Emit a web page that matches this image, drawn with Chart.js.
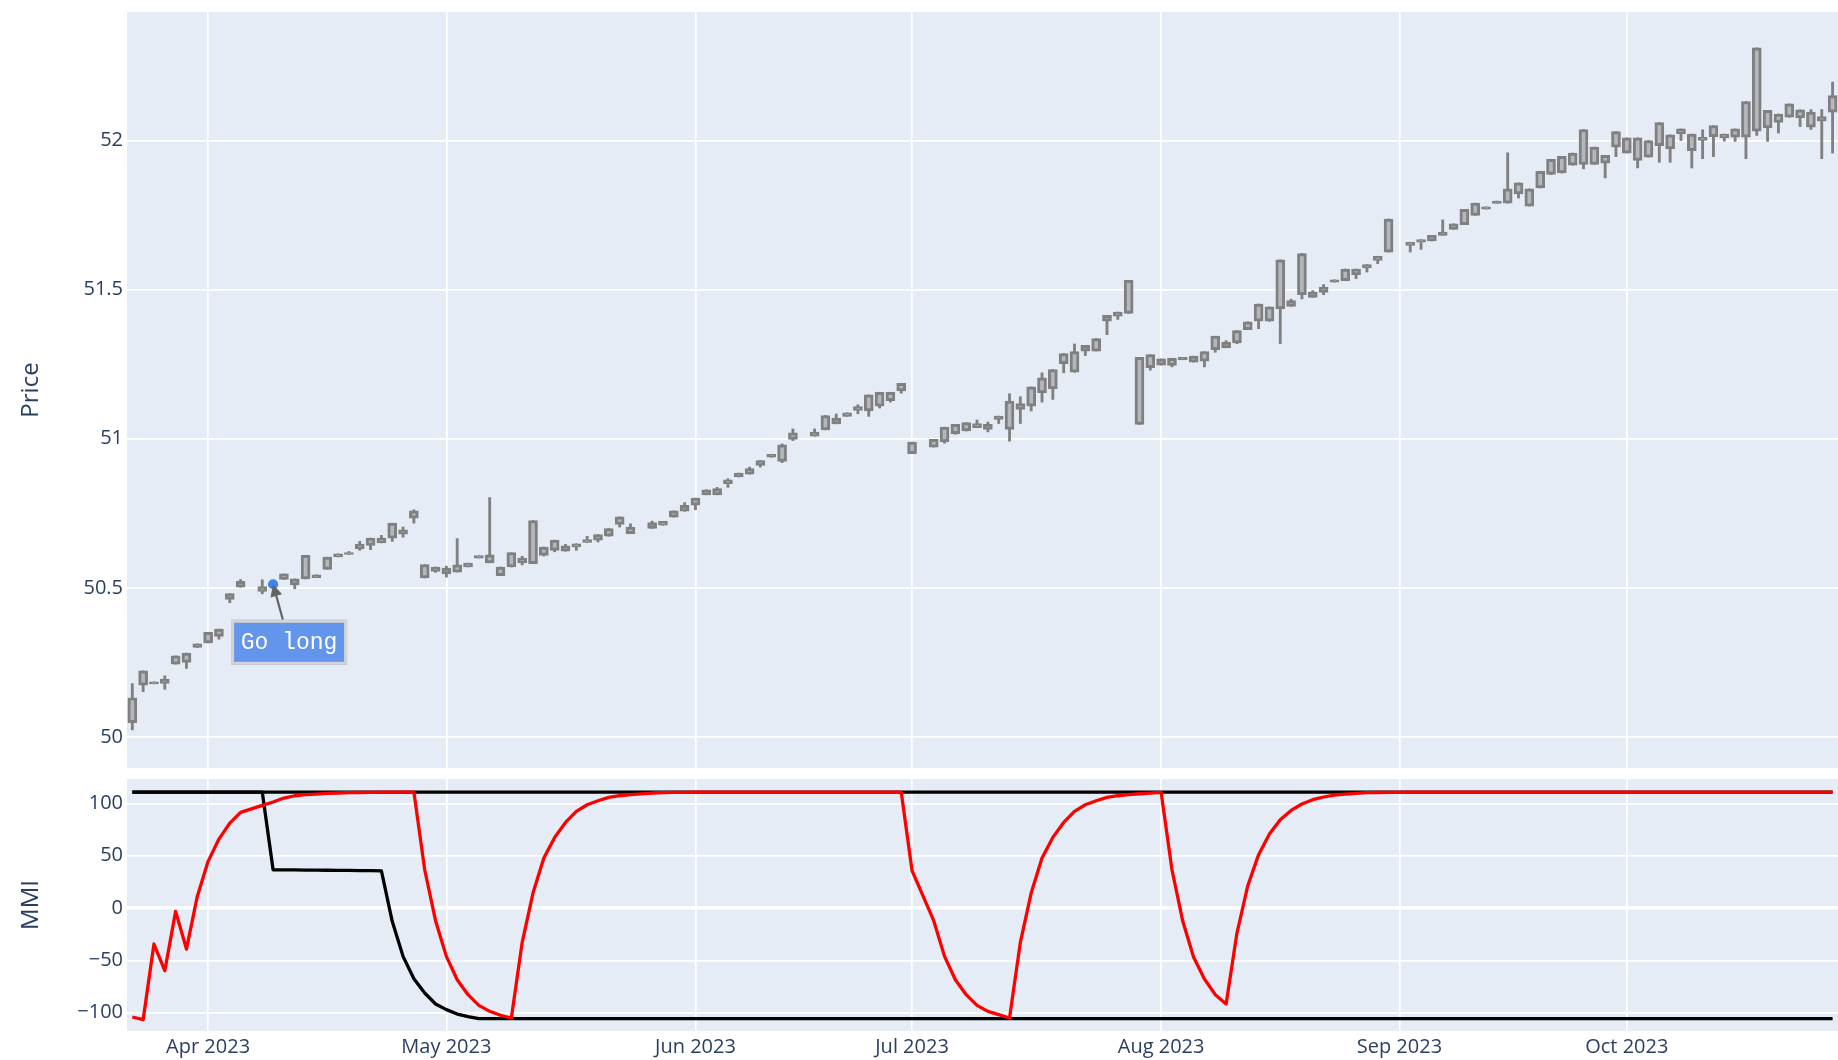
<!DOCTYPE html>
<html>
<head>
<meta charset="utf-8">
<script src="https://cdn.jsdelivr.net/npm/chart.js@4.4.0/dist/chart.umd.min.js"></script>
<style>
  body { margin: 0; background: #fff; }
  #top { position: absolute; left: 0; top: 0; width: 1838px; height: 768px; }
  #bottom { position: absolute; left: 0; top: 779px; width: 1838px; height: 281px; }
</style>
</head>
<body>
<div id="top"><canvas id="priceChart"></canvas></div>
<div id="bottom"><canvas id="mmiChart"></canvas></div>
<script>
// axis ticks (x is the bar number, month labels sit on the first bar of each month)
const monthTickIdx = [7, 29, 52, 72, 95, 117, 138];
const monthTickLabels = ["Apr 2023", "May 2023", "Jun 2023", "Jul 2023", "Aug 2023", "Sep 2023", "Oct 2023"];
const priceTicks = [50, 50.5, 51, 51.5, 52];
const priceTickLabels = ["50", "50.5", "51", "51.5", "52"];
const mmiTicks = [-100, -50, 0, 50, 100];
const mmiTickLabels = ["\u2212100", "\u221250", "0", "50", "100"];

// candles
const open = [
  50.048, 50.174, 50.178, 50.180, 50.244, 50.250, 50.300, 50.315, 50.337, 50.461,
  50.502, null, 50.488, 50.505, 50.528, 50.510, 50.530, 50.534, 50.562, 50.604,
  50.612, 50.631, 50.642, 50.651, 50.667, 50.680, 50.734, 50.533, 50.555, 50.547,
  50.553, 50.570, 50.600, 50.584, 50.541, 50.570, 50.584, 50.581, 50.609, 50.626,
  50.623, 50.637, 50.652, 50.660, 50.673, 50.713, 50.682, null, 50.699, 50.710,
  50.737, 50.757, 50.777, 50.812, 50.812, 50.849, 50.872, 50.881, 50.911, 50.938,
  50.924, 50.998, null, 51.009, 51.030, 51.050, 51.075, 51.095, 51.093, 51.109,
  51.128, 51.160, 50.950, null, 50.972, 50.989, 51.017, 51.026, 51.037, 51.031,
  51.065, 51.031, 51.098, 51.109, 51.154, 51.167, 51.252, 51.223, 51.294, 51.294,
  51.394, 51.411, 51.420, 51.048, 51.238, 51.247, 51.246, 51.265, 51.257, 51.260,
  51.299, 51.305, 51.321, 51.366, 51.394, 51.394, 51.435, 51.444, 51.483, 51.474,
  51.491, 51.525, 51.530, 51.550, 51.573, 51.598, 51.626, null, 51.648, 51.659,
  51.663, 51.682, 51.702, 51.718, 51.749, 51.770, 51.789, 51.790, 51.821, 51.780,
  51.841, 51.886, 51.891, 51.917, 51.920, 51.920, 51.924, 51.978, 51.958, 51.933,
  51.944, 51.983, 51.972, 52.022, 51.966, 52.000, 52.013, 52.009, 52.011, 52.011,
  52.031, 52.042, 52.061, 52.078, 52.076, 52.045, 52.065, 52.095
];
const close = [
  50.131, 50.222, 50.185, 50.194, 50.272, 50.281, 50.312, 50.351, 50.362, 50.481,
  50.522, null, 50.504, 50.515, 50.547, 50.530, 50.609, 50.544, 50.603, 50.614,
  50.618, 50.647, 50.667, 50.667, 50.717, 50.695, 50.758, 50.578, 50.570, 50.566,
  50.577, 50.583, 50.608, 50.611, 50.570, 50.618, 50.600, 50.726, 50.637, 50.660,
  50.641, 50.648, 50.662, 50.679, 50.699, 50.738, 50.704, null, 50.719, 50.723,
  50.758, 50.777, 50.801, 50.829, 50.833, 50.862, 50.885, 50.900, 50.927, 50.948,
  50.980, 51.020, null, 51.022, 51.078, 51.069, 51.087, 51.108, 51.147, 51.156,
  51.156, 51.186, 50.989, null, 50.998, 51.039, 51.048, 51.054, 51.051, 51.048,
  51.076, 51.126, 51.118, 51.174, 51.204, 51.232, 51.286, 51.292, 51.313, 51.336,
  51.414, 51.425, 51.531, 51.273, 51.282, 51.268, 51.270, 51.273, 51.277, 51.292,
  51.344, 51.324, 51.363, 51.392, 51.452, 51.442, 51.600, 51.463, 51.621, 51.492,
  51.509, 51.533, 51.569, 51.569, 51.584, 51.612, 51.737, null, 51.659, 51.668,
  51.682, 51.693, 51.721, 51.769, 51.790, 51.778, 51.797, 51.838, 51.858, 51.838,
  51.897, 51.937, 51.947, 51.958, 52.037, 51.978, 51.950, 52.030, 52.009, 52.009,
  52.000, 52.060, 52.019, 52.039, 52.022, 52.011, 52.050, 52.022, 52.039, 52.131,
  52.311, 52.101, 52.089, 52.123, 52.103, 52.095, 52.080, 52.151
];
const high = [
  50.179, 50.222, 50.185, 50.205, 50.272, 50.281, 50.312, 50.351, 50.362, 50.481,
  50.528, null, 50.527, 50.515, 50.547, 50.530, 50.609, 50.544, 50.603, 50.614,
  50.622, 50.656, 50.667, 50.676, 50.717, 50.704, 50.762, 50.578, 50.570, 50.573,
  50.665, 50.583, 50.608, 50.803, 50.570, 50.618, 50.606, 50.726, 50.637, 50.660,
  50.646, 50.648, 50.673, 50.679, 50.699, 50.738, 50.715, null, 50.724, 50.723,
  50.758, 50.786, 50.801, 50.829, 50.837, 50.866, 50.885, 50.905, 50.927, 50.948,
  50.983, 51.033, null, 51.033, 51.078, 51.083, 51.087, 51.114, 51.147, 51.156,
  51.156, 51.186, 50.989, null, 50.998, 51.039, 51.048, 51.054, 51.063, 51.056,
  51.076, 51.151, 51.141, 51.174, 51.221, 51.232, 51.286, 51.318, 51.313, 51.336,
  51.414, 51.425, 51.531, 51.273, 51.282, 51.268, 51.270, 51.273, 51.277, 51.292,
  51.344, 51.329, 51.363, 51.392, 51.452, 51.442, 51.600, 51.468, 51.621, 51.497,
  51.517, 51.533, 51.569, 51.569, 51.584, 51.612, 51.737, null, 51.659, 51.668,
  51.682, 51.734, 51.721, 51.769, 51.790, 51.778, 51.797, 51.959, 51.858, 51.838,
  51.897, 51.937, 51.947, 51.958, 52.037, 51.978, 51.950, 52.030, 52.009, 52.009,
  52.000, 52.060, 52.019, 52.039, 52.022, 52.036, 52.050, 52.022, 52.039, 52.131,
  52.311, 52.101, 52.089, 52.123, 52.103, 52.104, 52.104, 52.196
];
const low = [
  50.024, 50.152, 50.178, 50.160, 50.244, 50.230, 50.300, 50.315, 50.328, 50.450,
  50.502, null, 50.480, 50.505, 50.528, 50.497, 50.530, 50.534, 50.562, 50.604,
  50.612, 50.626, 50.628, 50.651, 50.656, 50.670, 50.717, 50.533, 50.552, 50.536,
  50.553, 50.570, 50.600, 50.584, 50.541, 50.570, 50.577, 50.581, 50.607, 50.621,
  50.623, 50.626, 50.652, 50.654, 50.673, 50.704, 50.682, null, 50.699, 50.710,
  50.737, 50.757, 50.762, 50.812, 50.812, 50.837, 50.872, 50.881, 50.905, 50.938,
  50.920, 50.994, null, 51.009, 51.030, 51.050, 51.075, 51.084, 51.075, 51.103,
  51.123, 51.153, 50.950, null, 50.972, 50.985, 51.015, 51.026, 51.037, 51.023,
  51.051, 50.992, 51.051, 51.093, 51.123, 51.132, 51.221, 51.223, 51.279, 51.294,
  51.349, 51.400, 51.420, 51.048, 51.230, 51.247, 51.241, 51.265, 51.257, 51.241,
  51.290, 51.305, 51.319, 51.366, 51.369, 51.394, 51.319, 51.444, 51.469, 51.474,
  51.483, 51.525, 51.530, 51.537, 51.559, 51.587, 51.626, null, 51.626, 51.635,
  51.663, 51.682, 51.702, 51.718, 51.749, 51.770, 51.789, 51.790, 51.807, 51.780,
  51.841, 51.886, 51.891, 51.917, 51.905, 51.920, 51.875, 51.946, 51.958, 51.908,
  51.944, 51.927, 51.927, 52.000, 51.908, 51.939, 51.946, 51.998, 51.997, 51.939,
  52.017, 51.997, 52.025, 52.078, 52.047, 52.037, 51.939, 51.958
];

// MMI panel
const mmi = [
  -104.1, -106.7, -34.4, -59.9, -3.2, -39.2, 11.1, 44.6, 65.9, 81.2,
  91.4, null, 98.1, 101.3, 105.1, 107.3, 108.3, 108.9, 109.6, 109.9,
  110.2, 110.4, 110.6, 110.7, 110.8, 110.8, 110.8, 36.6, -12.1, -46.2,
  -68.5, -82.8, -93.0, -98.7, -102.5, -105.1, -32.8, 14.3, 47.8, 67.5,
  81.8, 92.4, 98.7, 102.5, 105.7, 107.3, 108.3, null, 109.9, 110.3,
  110.5, 110.6, 110.7, 110.8, 110.8, 110.8, 110.8, 110.8, 110.8, 110.8,
  110.8, 110.8, null, 110.8, 110.8, 110.8, 110.8, 110.8, 110.8, 110.8,
  110.8, 110.8, 35.7, null, -12.1, -46.2, -68.5, -82.8, -93.0, -98.7,
  -101.9, -105.1, -32.8, 14.3, 47.8, 67.5, 81.8, 92.4, 98.7, 102.5,
  105.7, 107.3, 108.3, 109.2, 109.9, 110.5, 36.6, -12.7, -47.1, -67.8,
  -82.8, -91.7, -23.9, 21.3, 51.0, 70.7, 84.4, 93.3, 99.4, 103.5,
  106.1, 108.0, 108.9, 109.6, 110.2, 110.4, 110.6, null, 110.8, 110.8,
  110.8, 110.8, 110.8, 110.8, 110.8, 110.8, 110.8, 110.8, 110.8, 110.8,
  110.8, 110.8, 110.8, 110.8, 110.8, 110.8, 110.8, 110.8, 110.8, 110.8,
  110.8, 110.8, 110.8, 110.8, 110.8, 110.8, 110.8, 110.8, 110.8, 110.8,
  110.8, 110.8, 110.8, 110.8, 110.8, 110.8, 110.8, 110.8
];
const mmiUpper = [
  110.8, 110.8, 110.8, 110.8, 110.8, 110.8, 110.8, 110.8, 110.8, 110.8,
  110.8, null, 110.8, 110.8, 110.8, 110.8, 110.8, 110.8, 110.8, 110.8,
  110.8, 110.8, 110.8, 110.8, 110.8, 110.8, 110.8, 110.8, 110.8, 110.8,
  110.8, 110.8, 110.8, 110.8, 110.8, 110.8, 110.8, 110.8, 110.8, 110.8,
  110.8, 110.8, 110.8, 110.8, 110.8, 110.8, 110.8, null, 110.8, 110.8,
  110.8, 110.8, 110.8, 110.8, 110.8, 110.8, 110.8, 110.8, 110.8, 110.8,
  110.8, 110.8, null, 110.8, 110.8, 110.8, 110.8, 110.8, 110.8, 110.8,
  110.8, 110.8, 110.8, null, 110.8, 110.8, 110.8, 110.8, 110.8, 110.8,
  110.8, 110.8, 110.8, 110.8, 110.8, 110.8, 110.8, 110.8, 110.8, 110.8,
  110.8, 110.8, 110.8, 110.8, 110.8, 110.8, 110.8, 110.8, 110.8, 110.8,
  110.8, 110.8, 110.8, 110.8, 110.8, 110.8, 110.8, 110.8, 110.8, 110.8,
  110.8, 110.8, 110.8, 110.8, 110.8, 110.8, 110.8, null, 110.8, 110.8,
  110.8, 110.8, 110.8, 110.8, 110.8, 110.8, 110.8, 110.8, 110.8, 110.8,
  110.8, 110.8, 110.8, 110.8, 110.8, 110.8, 110.8, 110.8, 110.8, 110.8,
  110.8, 110.8, 110.8, 110.8, 110.8, 110.8, 110.8, 110.8, 110.8, 110.8,
  110.8, 110.8, 110.8, 110.8, 110.8, 110.8, 110.8, 110.8
];
const mmiLower = [
  110.8, 110.8, 110.8, 110.8, 110.8, 110.8, 110.8, 110.8, 110.8, 110.8,
  110.8, null, 110.8, 36.6, 36.5, 36.4, 36.3, 36.2, 36.1, 36.0,
  35.9, 35.8, 35.7, 35.6, -12.7, -46.2, -67.5, -81.2, -91.7, -97.1,
  -101.3, -103.8, -105.7, -105.7, -105.7, -105.7, -105.7, -105.7, -105.7, -105.7,
  -105.7, -105.7, -105.7, -105.7, -105.7, -105.7, -105.7, null, -105.7, -105.7,
  -105.7, -105.7, -105.7, -105.7, -105.7, -105.7, -105.7, -105.7, -105.7, -105.7,
  -105.7, -105.7, null, -105.7, -105.7, -105.7, -105.7, -105.7, -105.7, -105.7,
  -105.7, -105.7, -105.7, null, -105.7, -105.7, -105.7, -105.7, -105.7, -105.7,
  -105.7, -105.7, -105.7, -105.7, -105.7, -105.7, -105.7, -105.7, -105.7, -105.7,
  -105.7, -105.7, -105.7, -105.7, -105.7, -105.7, -105.7, -105.7, -105.7, -105.7,
  -105.7, -105.7, -105.7, -105.7, -105.7, -105.7, -105.7, -105.7, -105.7, -105.7,
  -105.7, -105.7, -105.7, -105.7, -105.7, -105.7, -105.7, null, -105.7, -105.7,
  -105.7, -105.7, -105.7, -105.7, -105.7, -105.7, -105.7, -105.7, -105.7, -105.7,
  -105.7, -105.7, -105.7, -105.7, -105.7, -105.7, -105.7, -105.7, -105.7, -105.7,
  -105.7, -105.7, -105.7, -105.7, -105.7, -105.7, -105.7, -105.7, -105.7, -105.7,
  -105.7, -105.7, -105.7, -105.7, -105.7, -105.7, -105.7, -105.7
];

// entry signal
const signalIdx = 13;
const signalPrice = 50.512;
const signalText = "Go long";

const textColor = "#2a3f5f";
const plotBg = "#e5ecf6";
const xMin = -0.49, xMax = 157.5;

Chart.defaults.font.family = "'Open Sans', sans-serif";
Chart.defaults.color = textColor;

// paint plot area background before grid
const bgPlugin = {
  id: "plotBg",
  beforeDraw(chart) {
    const a = chart.chartArea;
    chart.ctx.save();
    chart.ctx.fillStyle = plotBg;
    chart.ctx.fillRect(a.left, a.top, a.right - a.left, a.bottom - a.top);
    chart.ctx.restore();
  }
};

// "Go long" annotation with arrow
const signalPlugin = {
  id: "signal",
  afterDatasetsDraw(chart) {
    const ctx = chart.ctx;
    const px = chart.scales.x.getPixelForValue(signalIdx);
    const py = chart.scales.y.getPixelForValue(signalPrice);
    const bw = 116, bh = 45;
    const cx = px + 16, cy = py + 58;
    const tailY = cy - bh / 2;
    const tailX = px + (cx - px) * (tailY - py) / (cy - py);
    const ang = Math.atan2(py - tailY, px - tailX);
    const headLen = 12, headW = 6;
    const baseX = px - Math.cos(ang) * headLen, baseY = py - Math.sin(ang) * headLen;

    ctx.save();
    ctx.strokeStyle = "#636363";
    ctx.fillStyle = "#636363";
    ctx.lineWidth = 2.2;
    ctx.beginPath();
    ctx.moveTo(tailX, tailY);
    ctx.lineTo(baseX, baseY);
    ctx.stroke();
    ctx.beginPath();
    ctx.moveTo(px, py);
    ctx.lineTo(baseX + Math.sin(ang) * headW, baseY - Math.cos(ang) * headW);
    ctx.lineTo(baseX - Math.sin(ang) * headW, baseY + Math.cos(ang) * headW);
    ctx.closePath();
    ctx.fill();

    ctx.fillStyle = "#6495ed";
    ctx.fillRect(cx - bw / 2, cy - bh / 2, bw, bh);
    ctx.strokeStyle = "#d3d3d3";
    ctx.lineWidth = 3;
    ctx.strokeRect(cx - bw / 2 + 1.5, cy - bh / 2 + 1.5, bw - 3, bh - 3);
    ctx.fillStyle = "#ffffff";
    ctx.font = "23px 'Liberation Mono', 'DejaVu Sans Mono', monospace";
    ctx.textAlign = "center";
    ctx.textBaseline = "middle";
    ctx.fillText(signalText, cx, cy + 1);
    ctx.restore();
  }
};

// same axis width on both panels, and no label overhang padding
function fixAxisWidth(scale) {
  scale.width = 127;
  scale.paddingTop = 0;
  scale.paddingBottom = 0;
}

const tickFont = { size: 20 };
const titleFont = { size: 24 };

// price chart
const bars = open.map((v, i) => i);
const wickData = bars.filter(i => high[i] !== null).map(i => ({ x: i, y: [low[i], high[i]] }));
const bodyData = bars.filter(i => open[i] !== null).map(i => ({ x: i, y: [open[i], close[i]] }));

new Chart(document.getElementById("priceChart"), {
  type: "bar",
  data: {
    datasets: [
      {
        type: "scatter",
        data: [{ x: signalIdx, y: signalPrice }],
        backgroundColor: "#3f83ef",
        borderWidth: 0,
        pointRadius: 5,
        order: 0
      },
      {
        data: bodyData,
        backgroundColor: "#b4b7bc",
        borderColor: "#808080",
        borderWidth: 3,
        borderSkipped: false,
        barThickness: 9,
        grouped: false,
        order: 1
      },
      {
        data: wickData,
        backgroundColor: "#808080",
        borderWidth: 0,
        barThickness: 2.2,
        grouped: false,
        order: 2
      }
    ]
  },
  options: {
    responsive: true,
    maintainAspectRatio: false,
    animation: false,
    layout: { autoPadding: false, padding: { top: 12, right: 0, bottom: 0, left: 0 } },
    plugins: { legend: { display: false }, tooltip: { enabled: false } },
    scales: {
      x: {
        type: "linear",
        min: xMin,
        max: xMax,
        offset: false,
        afterBuildTicks: s => { s.ticks = monthTickIdx.map(v => ({ value: v })); },
        afterFit: s => { s.height = 0; },
        ticks: { display: false },
        grid: { color: "#ffffff", lineWidth: 1.7, drawTicks: false, offset: false },
        border: { display: false }
      },
      y: {
        position: "left",
        min: 49.896,
        max: 52.431,
        afterBuildTicks: s => { s.ticks = priceTicks.map(v => ({ value: v })); },
        afterFit: fixAxisWidth,
        ticks: { callback: (v, i) => priceTickLabels[i], font: tickFont, color: textColor, padding: 4 },
        grid: { color: "#ffffff", lineWidth: 1.7, drawTicks: false },
        border: { display: false },
        title: { display: true, text: "Price", font: titleFont, color: textColor, padding: { top: 17, bottom: 0 } }
      }
    }
  },
  plugins: [bgPlugin, signalPlugin]
});

// MMI chart
const toPoints = arr => arr.map((v, i) => ({ x: i, y: v }));

new Chart(document.getElementById("mmiChart"), {
  type: "line",
  data: {
    datasets: [
      { data: toPoints(mmi), borderColor: "#ff0000", borderWidth: 3.3, order: 0 },
      { data: toPoints(mmiUpper), borderColor: "#000000", borderWidth: 3.3, order: 1 },
      { data: toPoints(mmiLower), borderColor: "#000000", borderWidth: 3.3, order: 2 }
    ]
  },
  options: {
    responsive: true,
    maintainAspectRatio: false,
    animation: false,
    spanGaps: true,
    layout: { autoPadding: false, padding: 0 },
    elements: { point: { radius: 0 }, line: { tension: 0, borderJoinStyle: "round" } },
    plugins: { legend: { display: false }, tooltip: { enabled: false } },
    scales: {
      x: {
        type: "linear",
        min: xMin,
        max: xMax,
        afterBuildTicks: s => { s.ticks = monthTickIdx.map(v => ({ value: v })); },
        afterFit: s => { s.height = 29; },
        ticks: { callback: (v, i) => monthTickLabels[i], font: tickFont, color: textColor, padding: 4, maxRotation: 0, autoSkip: false },
        grid: { color: "#ffffff", lineWidth: 1.7, drawTicks: false },
        border: { display: false }
      },
      y: {
        position: "left",
        min: -117.5,
        max: 123.3,
        afterBuildTicks: s => { s.ticks = mmiTicks.map(v => ({ value: v })); },
        afterFit: fixAxisWidth,
        ticks: { callback: (v, i) => mmiTickLabels[i], font: tickFont, color: textColor, padding: 4 },
        grid: { color: "#ffffff", lineWidth: c => (c.tick && c.tick.value === 0 ? 3.4 : 1.7), drawTicks: false },
        border: { display: false },
        title: { display: true, text: "MMI", font: titleFont, color: textColor, padding: { top: 17, bottom: 0 } }
      }
    }
  },
  plugins: [bgPlugin]
});
</script>
</body>
</html>
